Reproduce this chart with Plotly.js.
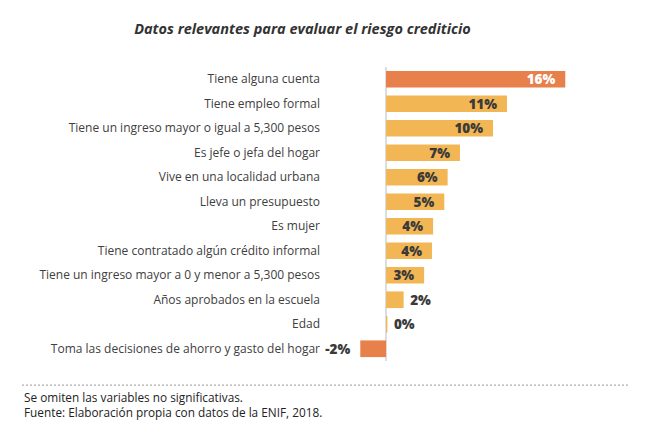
<!DOCTYPE html>
<html>
<head>
<meta charset="utf-8">
<script src="https://cdn.plot.ly/plotly-3.0.1.min.js"></script>
<style>
html,body{margin:0;padding:0;background:#fff;}
#chart{width:654px;height:433px;}
</style>
</head>
<body>
<div id="chart"></div>
<script>
const categories = [
  "Tiene alguna cuenta",
  "Tiene empleo formal",
  "Tiene un ingreso mayor o igual a 5,300 pesos",
  "Es jefe o jefa del hogar",
  "Vive en una localidad urbana",
  "Lleva un presupuesto",
  "Es mujer",
  "Tiene contratado algún crédito informal",
  "Tiene un ingreso mayor a 0 y menor a 5,300 pesos",
  "Años aprobados en la escuela",
  "Edad",
  "Toma las decisiones de ahorro y gasto del hogar"
];
const values = [16.0, 10.8, 9.55, 6.6, 5.5, 5.2, 4.2, 4.1, 3.4, 1.57, 0.12, -2.3];
const valueLabels = ["16%", "11%", "10%", "7%", "6%", "5%", "4%", "4%", "3%", "2%", "0%", "-2%"];
const highlight = [true, false, false, false, false, false, false, false, false, false, false, true];

const ORANGE = "#E8804B";
const YELLOW = "#F2B754";
const NB = "\u00a0";

const positions = values.map(v => (v >= 3 ? "inside" : "outside"));
const shownText = valueLabels.map((t, i) => {
  if (positions[i] === "inside") return t + NB + NB;
  if (values[i] < 0) return t + NB + NB;
  return NB + t;
});

const trace = {
  type: "bar",
  orientation: "h",
  y: categories,
  x: values,
  text: shownText,
  textposition: positions,
  insidetextanchor: "end",
  constraintext: "none",
  cliponaxis: false,
  textfont: {
    family: "Open Sans, sans-serif",
    size: 13.5,
    weight: 800,
    color: highlight.map((h, i) => (h && values[i] > 0 ? "#ffffff" : "#3a3a3a"))
  },
  marker: {
    color: highlight.map(h => (h ? ORANGE : YELLOW)),
    line: {width: 0}
  },
  hoverinfo: "none"
};

const layout = {
  width: 654,
  height: 433,
  paper_bgcolor: "#ffffff",
  plot_bgcolor: "#ffffff",
  margin: {l: 325, r: 79, t: 67, b: 72},
  bargap: 0.32,
  showlegend: false,
  title: {
    text: "<b><i>Datos relevantes para evaluar el riesgo crediticio</i></b>",
    font: {family: "Open Sans, sans-serif", size: 14.5, color: "#333333"},
    x: 0.4625, xanchor: "center", xref: "container",
    y: 0.934, yanchor: "middle", yref: "container"
  },
  xaxis: {
    range: [-5.45, 16.87],
    showgrid: false,
    showticklabels: false,
    zeroline: true,
    zerolinecolor: "#dddddd",
    zerolinewidth: 1.5,
    fixedrange: true
  },
  yaxis: {
    autorange: "reversed",
    showgrid: false,
    zeroline: false,
    ticks: "",
    ticklabelstandoff: 4,
    tickfont: {family: "Open Sans, sans-serif", size: 12, color: "#404040"},
    fixedrange: true
  },
  shapes: [
    {type: "line", xref: "paper", yref: "paper", x0: -1.212, x1: 1.22, y0: -0.082, y1: -0.082,
     line: {color: "#9a9a9a", width: 1, dash: "2px,2px"}}
  ],
  annotations: [
    {xref: "paper", yref: "paper", x: -1.212, y: -0.09, xanchor: "left", yanchor: "top",
     align: "left",
     text: "Se omiten las variables no significativas.<br>Fuente: Elaboración propia con datos de la ENIF, 2018.",
     showarrow: false,
     font: {family: "Open Sans, sans-serif", size: 11.8, color: "#222222"}}
  ]
};

Plotly.newPlot("chart", [trace], layout, {displayModeBar: false, staticPlot: true});
</script>
</body>
</html>
